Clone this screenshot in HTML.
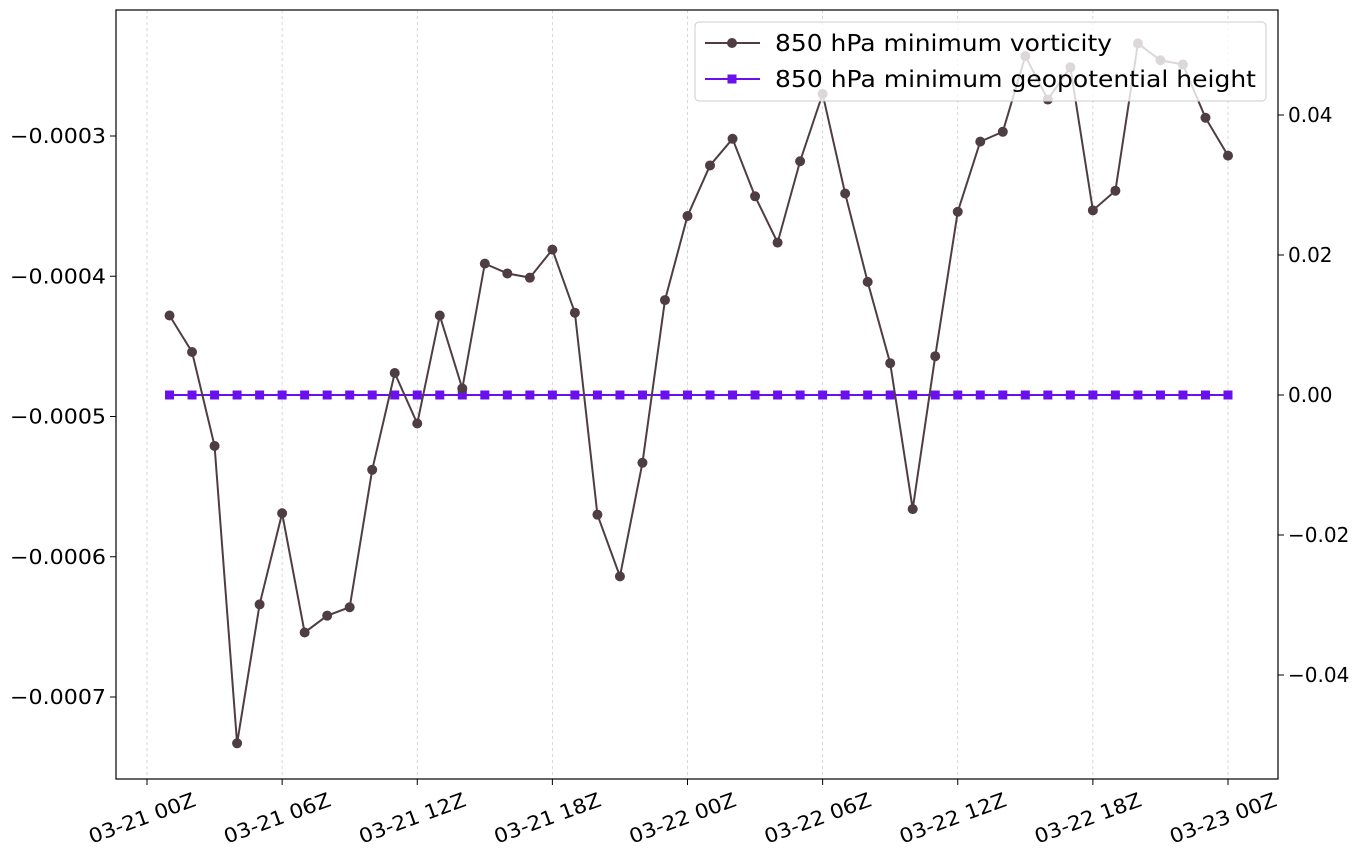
<!DOCTYPE html>
<html><head><meta charset="utf-8"><style>
html,body{margin:0;padding:0;background:#fff;}
svg text{font-family:"DejaVu Sans","Liberation Sans",sans-serif;fill:#000;}
</style></head><body>
<svg id="chart" width="1366" height="860" xmlns="http://www.w3.org/2000/svg">
<g id="grid"></g>
<g id="series"></g>
<rect x="116" y="10" width="1162" height="769" fill="none" stroke="#000" stroke-width="1.2"/>
<g id="axes"></g>
<g>
<rect x="695" y="22" width="571" height="79" rx="4" fill="#fff" fill-opacity="0.8" stroke="#ccc"/>
<g>
<line x1="705" y1="43" x2="760" y2="43" stroke="#4f3d44" stroke-width="2"/>
<circle cx="732" cy="43" r="5" fill="#4f3d44"/>
<text x="775" y="51" font-size="23" textLength="337" lengthAdjust="spacingAndGlyphs">850 hPa minimum vorticity</text></g>
<g>
<line x1="705" y1="79" x2="760" y2="79" stroke="#6a10ee" stroke-width="2"/>
<rect x="727.5" y="74.5" width="9" height="9" fill="#6a10ee"/>
<text x="775" y="87" font-size="23" textLength="481" lengthAdjust="spacingAndGlyphs">850 hPa minimum geopotential height</text></g>
</g>
</svg>
<script>
const hours=[1,2,3,4,5,6,7,8,9,10,11,12,13,14,15,16,17,18,19,20,21,22,23,24,25,26,27,28,29,30,31,32,33,34,35,36,37,38,39,40,41,42,43,44,45,46,47,48];
const vorticity=[-0.000428,-0.000454,-0.000521,-0.000733,-0.000634,-0.000569,-0.000654,-0.000642,-0.000636,-0.000538,-0.000469,-0.000505,-0.000428,-0.000480,-0.000391,-0.000398,-0.000401,-0.000381,-0.000426,-0.000570,-0.000614,-0.000533,-0.000417,-0.000357,-0.000321,-0.000302,-0.000343,-0.000376,-0.000318,-0.000270,-0.000341,-0.000404,-0.000462,-0.000566,-0.000457,-0.000354,-0.000304,-0.000297,-0.000243,-0.000274,-0.000251,-0.000353,-0.000339,-0.000234,-0.000246,-0.000249,-0.000287,-0.000314];
const geopotential=hours.map(()=>0);
const xTickHours=[0,6,12,18,24,30,36,42,48];
const xTickLabels=["03-21 00Z","03-21 06Z","03-21 12Z","03-21 18Z","03-22 00Z","03-22 06Z","03-22 12Z","03-22 18Z","03-23 00Z"];
const leftTicks=[-0.0003,-0.0004,-0.0005,-0.0006,-0.0007];
const leftLabels=["−0.0003","−0.0004","−0.0005","−0.0006","−0.0007"];
const rightTicks=[0.04,0.02,0,-0.02,-0.04];
const rightLabels=["0.04","0.02","0.00","−0.02","−0.04"];

const NS="http://www.w3.org/2000/svg";
const xs=h=>147+h*(1228-147)/48;
const yl=v=>136+(-0.0003-v)/0.0001*140.25;
const yr=v=>395-v/0.04*280;
function mk(p,tag,a){const e=document.createElementNS(NS,tag);for(const k in a)e.setAttribute(k,a[k]);p.appendChild(e);return e;}
const grid=document.getElementById('grid'),axes=document.getElementById('axes'),ser=document.getElementById('series');
xTickHours.forEach((h,i)=>{
  const x=xs(h);
  const g=mk(grid,'line',{x1:x,x2:x,y1:10,y2:779,stroke:'#ccc','stroke-dasharray':'3,3','stroke-width':0.8});
  
  
  mk(axes,'line',{x1:x,x2:x,y1:779,y2:785,stroke:'#000'});
  const cx=x-5;
  const t=mk(axes,'text',{x:cx,y:825,'font-size':20,'text-anchor':'middle',transform:`rotate(-20 ${cx} 818)`,textLength:112,lengthAdjust:'spacingAndGlyphs'});
  t.textContent=xTickLabels[i];
  
  
});
leftTicks.forEach((v,i)=>{
  const y=yl(v);
  mk(axes,'line',{x1:110,x2:116,y1:y,y2:y,stroke:'#000'});
  const t=mk(axes,'text',{x:106,y:y+7,'font-size':20,'text-anchor':'end',textLength:96,lengthAdjust:'spacingAndGlyphs'});
  t.textContent=leftLabels[i];
  
  
});
rightTicks.forEach((v,i)=>{
  const y=yr(v);
  mk(axes,'line',{x1:1278,x2:1284,y1:y,y2:y,stroke:'#000'});
  const t=mk(axes,'text',{x:1288,y:y+7,'font-size':20});
  t.textContent=rightLabels[i];
  
  
});
const gp=mk(ser,'polyline',{points:hours.map((h,i)=>xs(h)+','+yr(geopotential[i])).join(' '),fill:'none',stroke:'#6a10ee','stroke-width':2});


hours.forEach((h,i)=>{
  const r=mk(ser,'rect',{x:xs(h)-4.5,y:yr(geopotential[i])-4.5,width:9,height:9,fill:'#6a10ee'});
  
  
});
const vl=mk(ser,'polyline',{points:hours.map((h,i)=>xs(h)+','+yl(vorticity[i])).join(' '),fill:'none',stroke:'#4f3d44','stroke-width':2});


hours.forEach((h,i)=>{
  const c=mk(ser,'circle',{cx:xs(h),cy:yl(vorticity[i]),r:5,fill:'#4f3d44'});
  
  
});
</script>
</body></html>
